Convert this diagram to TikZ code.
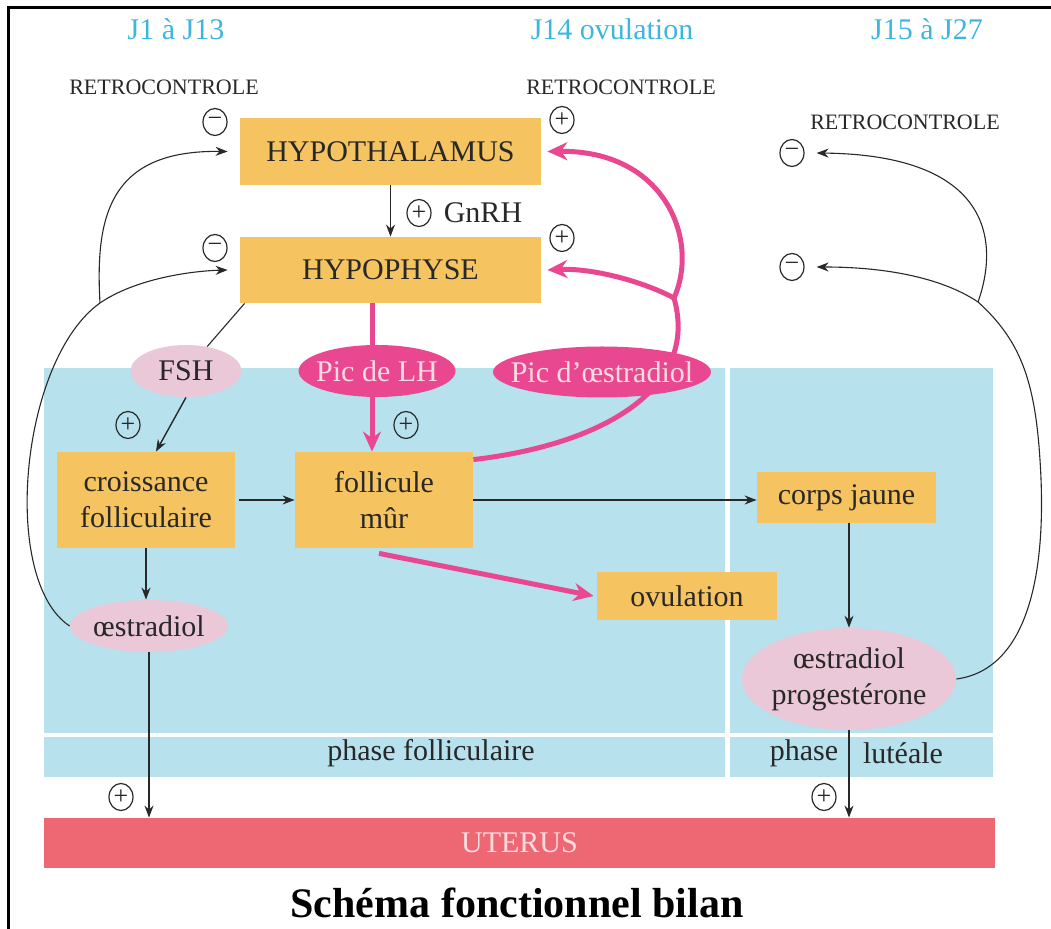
\documentclass[tikz,border=0pt]{standalone}
\usepackage{fontspec}
\setmainfont{Liberation Serif}
\usetikzlibrary{arrows.meta,shapes.geometric}
\definecolor{jaune}{RGB}{245,196,96}
\definecolor{rosepale}{RGB}{234,200,216}
\definecolor{fuchsia}{RGB}{233,72,145}
\definecolor{bleu}{RGB}{183,225,237}
\definecolor{uterus}{RGB}{238,104,116}
\definecolor{uterustxt}{RGB}{252,220,224}
\definecolor{cyantxt}{RGB}{60,182,222}
\definecolor{encre}{RGB}{40,40,40}
\newcommand{\ctext}[1]{\makebox[0pt]{#1}}

\begin{document}
\begin{tikzpicture}[x=0.5pt,y=-0.5pt,
    organe/.style={fill=jaune,inner sep=0pt,text=encre,align=center,
      font=\fontsize{15}{18}\selectfont},
    hormone/.style={ellipse,fill=rosepale,inner sep=0pt,text=encre,
      font=\fontsize{15}{18}\selectfont},
    pic/.style={ellipse,fill=fuchsia,inner sep=0pt,text=uterustxt,
      font=\fontsize{15}{18}\selectfont},
    signe/.style={ellipse,draw=encre,line width=0.6pt,inner sep=0pt,
      minimum width=12pt,minimum height=13.5pt,text=encre,
      font=\fontsize{13}{13}\selectfont},
    jour/.style={text=cyantxt,font=\fontsize{15}{18}\selectfont},
    retro/.style={text=encre,font=\fontsize{11}{13}\selectfont},
    phase/.style={text=encre,font=\fontsize{15}{18}\selectfont},
    fl/.style={-{Stealth[length=6pt,width=4.5pt]},line width=0.7pt,draw=encre},
    courbe/.style={fl,line width=0.55pt},
    rose/.style={-{Stealth[length=10pt,width=9pt]},line width=2.5pt,draw=fuchsia}]
  \useasboundingbox (0,0) rectangle (1051,929);

  % fond bleu des phases
  \fill[bleu] (44,368) rectangle (725,733);
  \fill[bleu] (730,368) rectangle (993,733);
  \fill[bleu] (44,737) rectangle (725,777);
  \fill[bleu] (730,737) rectangle (993,777);
  \draw[line width=1.5pt] (8,929) -- (8,8) -- (1051,8);

  % textes
  \node[jour] (j1) at (176,29) {J1 à J13};
  \node[jour] (j14) at (612,29) {J14 ovulation};
  \node[jour] (j15) at (927,29) {J15 à J27};
  \node[retro] (r1) at (164,87) {RETROCONTROLE};
  \node[retro] (r2) at (621,87) {RETROCONTROLE};
  \node[retro] (r3) at (905,122) {RETROCONTROLE};
  \node[phase] (pfol) at (431,753) {phase folliculaire};
  \node[phase] (plut1) at (804,753) {phase};
  \node[phase] (plut2) at (903,753) {lutéale};
  \node[font=\bfseries\fontsize{21}{24}\selectfont] (titre) at (517,903)
    {Schéma fonctionnel bilan};

  % organes et hormones
  \node[organe,minimum width=150.5pt,minimum height=33.5pt] (hypo) at (390.5,151.5) {HYPOTHALAMUS};
  \node[organe,minimum width=150.5pt,minimum height=33pt] (hyph) at (390.5,270) {HYPOPHYSE};
  \node[organe,minimum width=89pt,minimum height=48pt] (crois) at (146,500) {croissance\\folliculaire};
  \node[organe,minimum width=89pt,minimum height=48pt] (foll) at (384,500) {follicule\\mûr};
  \node[organe,minimum width=89.5pt,minimum height=25.5pt] (cj) at (846.5,497.5) {corps jaune};
  \node[organe,minimum width=90pt,minimum height=24pt] (ovu) at (687,596) {ovulation};
  \node[hormone,minimum width=55.5pt,minimum height=26pt] (fsh) at (186,371) {\ctext{FSH}};
  \node[hormone,minimum width=79pt,minimum height=26pt] (oest) at (149,626) {\ctext{œstradiol}};
  \node[hormone,minimum width=107pt,minimum height=49pt] (oestprog) at (849,679)
    {\ctext{\begin{tabular}{@{}c@{}}œstradiol\\progestérone\end{tabular}}};
  \node[fill=uterus,inner sep=0pt,minimum width=475.5pt,minimum height=25pt,
    text=uterustxt,font=\fontsize{15}{18}\selectfont] (uter) at (519.5,843) {UTERUS};

  % signes
  \node[signe] (m1) at (215,122) {\ctext{−}};
  \node[signe] (m2) at (215,248) {\ctext{−}};
  \node[signe] (p1) at (562,120) {\ctext{+}};
  \node[signe] (p2) at (562,238) {\ctext{+}};
  \node[signe] (pg) at (419,213) {\ctext{+}};
  \node[phase] (gnrh) at (483,213) {GnRH};
  \node[signe] (pfsh) at (128,425) {\ctext{+}};
  \node[signe] (plh) at (406,425) {\ctext{+}};
  \node[signe] (pu1) at (121,797) {\ctext{+}};
  \node[signe] (pu2) at (824,797) {\ctext{+}};
  \node[signe] (mr1) at (792,153) {\ctext{−}};
  \node[signe] (mr2) at (792,267) {\ctext{−}};

  % fleches roses
  \coordinate (pb) at (674,298);
  \draw[rose] ([xshift=-9.25pt]hyph.south) -- ([xshift=-6pt]foll.north);
  \draw[rose] ([yshift=-4pt]foll.north east) .. controls (600,445) and (700,390) .. (pb)
    .. controls (700,240) and (665,150) .. ([xshift=3pt]hypo.east);
  \draw[rose] (pb) .. controls (640,280) and (590,268) .. ([xshift=3pt]hyph.east);
  \draw[rose] ([shift={(-2.5pt,-2.5pt)}]foll.south) -- ([xshift=-1.5pt]ovu.west);

  % fleches noires
  \draw[fl] (hypo) -- (hyph);
  \draw[fl,shorten <=2pt] (crois) -- (foll);
  \draw[fl] (foll.east) -- (foll.east -| cj.west);
  \draw[fl] (crois.south) -- (crois.south |- oest.north);
  \draw[fl] (oest) -- (oest |- uter.north);
  \draw[fl] (cj.south -| oestprog) -- (oestprog);
  \draw[fl] (oestprog) -- (oestprog |- uter.north);
  \draw[line width=0.55pt,draw=encre] ([xshift=2.5pt]hyph.south west) -- (fsh);
  \draw[fl] (fsh.south) -- ([xshift=5pt]crois.north);

  % retrocontroles
  \coordinate (lb) at (100,303);
  \draw[courbe] (oest.west) .. controls (0,580) and (20,360) .. (lb)
    .. controls (135,279) and (190,271) .. ([xshift=-6pt]hyph.west);
  \draw[courbe] (lb) .. controls (95,215) and (110,150) .. ([xshift=-6pt]hypo.west);
  \coordinate (rb) at (978,302);
  \draw[courbe] (oestprog.east) .. controls (1025,670) and (1048,580) .. (1040,460)
    .. controls (1035,380) and (1020,340) .. (rb)
    .. controls (950,283) and (900,267) .. ([xshift=6pt]mr2.east);
  \draw[courbe] (rb) .. controls (1000,240) and (990,155) .. ([xshift=6pt]mr1.east);

  % pics
  \node[pic,minimum width=78.5pt,minimum height=26pt] (piclh) at (377,371) {\ctext{Pic de LH}};
  \node[pic,minimum width=109pt,minimum height=25.5pt] (picoe) at (602,372) {\ctext{Pic d’œstradiol}};
\end{tikzpicture}
\end{document}
